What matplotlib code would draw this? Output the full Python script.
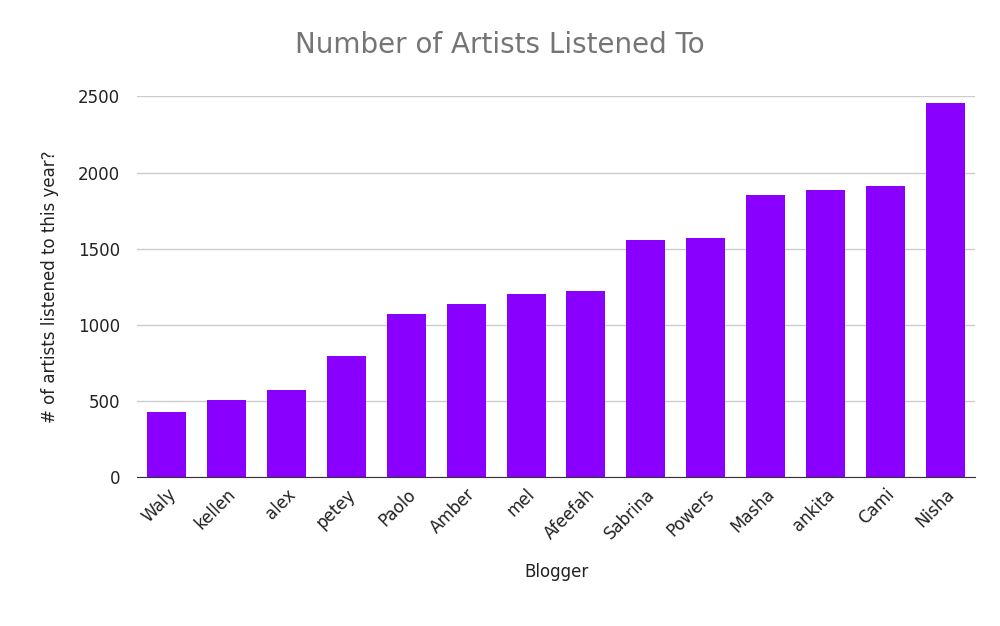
import matplotlib
matplotlib.use('Agg')
import matplotlib.pyplot as plt
import numpy as np

bloggers = ['Waly', 'kellen', 'alex', 'petey', 'Paolo', 'Amber', 'mel', 'Afeefah',
            'Sabrina', 'Powers', 'Masha', 'ankita', 'Cami', 'Nisha']
artists = [428, 507, 572, 796, 1072, 1138, 1204, 1224, 1559, 1572, 1855, 1888, 1914, 2454]

BAR_C = '#8a00ff'
TEXT_C = '#222222'
GRID_C = '#cccccc'

fig = plt.figure(figsize=(10, 6.26), dpi=100, facecolor='white')
ax = fig.add_axes([0.137, 0.238, 0.838, 0.608])
x = np.arange(len(bloggers))
ax.bar(x, artists, width=0.65, color=BAR_C, zorder=3)

ax.set_xlim(-0.5, len(bloggers) - 0.5)
ax.set_ylim(0, 2500)
ax.set_yticks([0, 500, 1000, 1500, 2000, 2500])
ax.yaxis.grid(True, color=GRID_C, linewidth=1, zorder=0)
for s in ['top', 'right', 'left']:
    ax.spines[s].set_visible(False)
ax.spines['bottom'].set_color('#333333')
ax.tick_params(axis='y', length=0, labelsize=12, colors=TEXT_C, pad=12)
ax.tick_params(axis='x', length=0, labelsize=12, colors=TEXT_C, pad=6)
ax.set_xticks(x)
ax.set_xticklabels(bloggers, rotation=45, ha='right', rotation_mode='anchor')

ax.set_xlabel('Blogger', fontsize=12, color=TEXT_C, labelpad=14)
ax.set_ylabel('# of artists listened to this year?', fontsize=12, color=TEXT_C, labelpad=14)
fig.suptitle('Number of Artists Listened To', fontsize=20, color='#757575', y=0.95)

fig.savefig('out.png', dpi=100, facecolor='white')
